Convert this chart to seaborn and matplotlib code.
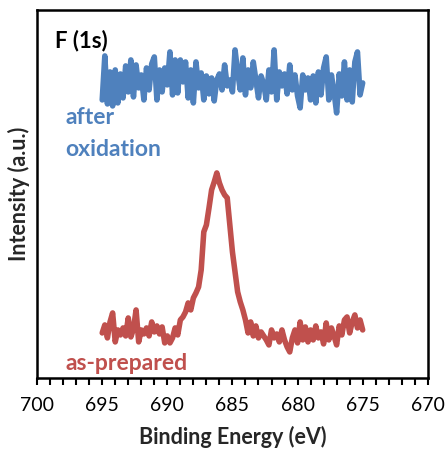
import numpy as np
import pandas as pd
import matplotlib
matplotlib.use("Agg")
import matplotlib.pyplot as plt
from matplotlib.ticker import MultipleLocator
import seaborn as sns

# F 1s spectra, intensity in arbitrary units, sampled every 0.2 eV from 695 to 675 eV
after_oxidation = [
    278, 322, 274, 306, 272, 308, 275, 304, 280, 312, 286, 318, 281, 313, 290, 303,
    278, 310, 288, 314, 321, 278, 308, 286, 310, 293, 326, 283, 318, 285, 318, 296,
    316, 280, 308, 275, 316, 290, 305, 278, 302, 284, 300, 277, 298, 304, 288, 313,
    292, 298, 286, 328, 306, 288, 320, 283, 308, 290, 316, 298, 280, 302, 294, 278,
    308, 286, 328, 278, 306, 292, 304, 284, 313, 288, 303, 282, 270, 303, 288, 300,
    278, 302, 275, 306, 283, 310, 321, 278, 303, 286, 265, 304, 282, 316, 278, 308,
    276, 316, 326, 283, 295,
]
as_prepared = [
    45, 53, 40, 56, 65, 36, 48, 43, 50, 42, 60, 41, 49, 68, 36, 48,
    44, 50, 42, 56, 46, 52, 44, 51, 35, 42, 35, 40, 50, 43, 58, 61,
    66, 75, 68, 80, 85, 91, 108, 146, 153, 170, 188, 196, 205, 195,
    188, 183, 180, 153, 126, 106, 86, 76, 68, 58, 45, 56, 42, 52,
    40, 46, 42, 38, 33, 48, 40, 44, 36, 48, 38, 31, 26, 40, 48, 35,
    56, 38, 51, 36, 48, 38, 52, 40, 46, 34, 55, 38, 50, 42, 33, 52,
    43, 58, 61, 45, 56, 63, 50, 58, 48,
]
series_colors = ["#4F81BD", "#C0504D"]

energy_a = np.linspace(695, 675, len(after_oxidation))
energy_b = np.linspace(695, 675, len(as_prepared))
df = pd.concat([
    pd.DataFrame({"energy": energy_a, "intensity": after_oxidation, "series": "after"}),
    pd.DataFrame({"energy": energy_b, "intensity": as_prepared, "series": "as"}),
])

sns.set_style("white")
plt.rcParams["font.family"] = ["Lato", "DejaVu Sans"]

fig = plt.figure(figsize=(4.47, 4.51), dpi=100)
ax = fig.add_axes([0.083, 0.162, 0.874, 0.816])

sns.lineplot(data=df, x="energy", y="intensity", hue="series",
             palette=dict(zip(["after", "as"], series_colors)),
             sort=False, estimator=None, linewidth=4.0, legend=False, ax=ax)

ax.set_xlim(700, 670)
ax.set_ylim(0, 368)
ax.xaxis.set_major_locator(MultipleLocator(5))
ax.xaxis.set_minor_locator(MultipleLocator(1))
ax.tick_params(axis="x", which="both", direction="out", length=5, width=1.5,
               bottom=True, labelsize=14, pad=9, colors="black")
ax.set_yticks([])
for sp in ax.spines.values():
    sp.set_linewidth(1.8)
    sp.set_color("black")

ax.set_xlabel("Binding Energy (eV)", fontsize=15.5, fontweight="bold", labelpad=8)
ax.set_ylabel("Intensity (a.u.)", fontsize=15.5, fontweight="bold", labelpad=5)

ax.text(0.046, 0.918, "F (1s)", transform=ax.transAxes, fontsize=16,
        fontweight="bold", color="black", va="center", ha="left")
ax.text(0.072, 0.707, "after", transform=ax.transAxes, fontsize=16.5,
        fontweight="bold", color=series_colors[0], va="center", ha="left")
ax.text(0.072, 0.62, "oxidation", transform=ax.transAxes, fontsize=16.5,
        fontweight="bold", color=series_colors[0], va="center", ha="left")
ax.text(0.072, 0.04, "as-prepared", transform=ax.transAxes, fontsize=16.5,
        fontweight="bold", color=series_colors[1], va="center", ha="left")

fig.savefig("out.png", dpi=100)
